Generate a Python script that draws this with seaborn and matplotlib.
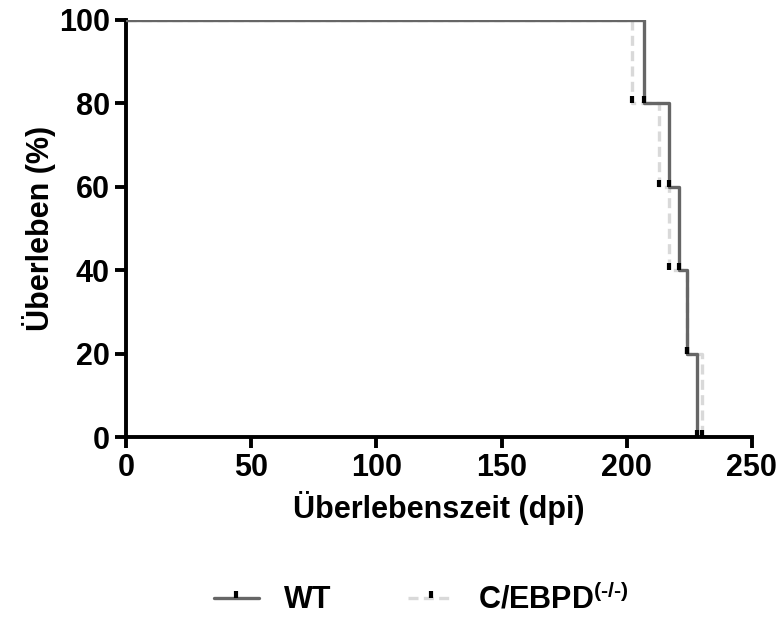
import pandas as pd
import seaborn as sns
import matplotlib.pyplot as plt
from matplotlib.path import Path
from matplotlib.lines import Line2D

# survival data
wt_days = [0, 207, 217, 221, 224, 228]
wt_surv = [100, 80, 60, 40, 20, 0]
ko_days = [0, 202, 213, 217, 224, 230]
ko_surv = [100, 80, 60, 40, 20, 0]
groups = ["WT", r"C/EBPD$^{\mathbf{(\text{-}/\text{-})}}$"]

df = pd.concat([
    pd.DataFrame({"day": wt_days, "surv": wt_surv, "group": groups[0]}),
    pd.DataFrame({"day": ko_days, "surv": ko_surv, "group": groups[1]}),
])

sns.set_style("ticks")
plt.rcParams["font.family"] = ["Liberation Sans", "DejaVu Sans"]
plt.rcParams["font.weight"] = "bold"
plt.rcParams["text.color"] = "black"
plt.rcParams["axes.labelcolor"] = "black"
plt.rcParams["xtick.color"] = "black"
plt.rcParams["ytick.color"] = "black"
plt.rcParams["mathtext.fontset"] = "custom"
plt.rcParams["mathtext.rm"] = "Liberation Sans:bold"
plt.rcParams["mathtext.bf"] = "Liberation Sans:bold"

fig, ax = plt.subplots(figsize=(7.8, 6.17), dpi=100)
fig.subplots_adjust(left=0.1615, right=0.964, top=0.9676, bottom=0.2917)

tick_marker = Path([(0, 0), (0, 1)])
dash = (0, (3.0, 1.6))

ko = df[df.group == groups[1]]
wt = df[df.group == groups[0]]
sns.lineplot(data=ko, x="day", y="surv", drawstyle="steps-post", estimator=None,
             color="#d9d9d9", lw=2.4, ax=ax, zorder=2,
             linestyle=dash, legend=False)
sns.lineplot(data=wt, x="day", y="surv", drawstyle="steps-post", estimator=None,
             color="#666666", lw=2.4, ax=ax, zorder=3, legend=False)
for d in (ko, wt):
    ev = d[d.day > 0]
    ax.scatter(ev.day, ev.surv, marker=tick_marker, s=90, color="black",
               linewidths=3.0, zorder=4, clip_on=False)

ax.set_xlim(0, 250)
ax.set_ylim(0, 100)
ax.set_xticks([0, 50, 100, 150, 200, 250])
ax.set_yticks([0, 20, 40, 60, 80, 100])
ax.set_xlabel("Überlebenszeit (dpi)", fontsize=22, fontweight="bold", labelpad=6)
ax.set_ylabel("Überleben (%)", fontsize=22, fontweight="bold", labelpad=2)
ax.tick_params(labelsize=22, width=2.8, length=8, color="black")
for s in ["left", "bottom"]:
    ax.spines[s].set_linewidth(2.8)
    ax.spines[s].set_color("black")
sns.despine(ax=ax)

handles = [
    Line2D([], [], color="#666666", lw=2.4, marker=tick_marker, markersize=10,
           markeredgecolor="black", markeredgewidth=3.0),
    Line2D([], [], color="#d9d9d9", lw=2.4, linestyle=dash,
           marker=tick_marker, markersize=10, markeredgecolor="black",
           markeredgewidth=3.0),
]
fig.legend(handles, groups, loc="lower center", bbox_to_anchor=(0.54, -0.042),
           ncol=2, frameon=False, prop={"size": 22, "weight": "bold"},
           handlelength=1.5, handletextpad=0.8, columnspacing=2.5)

fig.savefig("out.png", dpi=100)
